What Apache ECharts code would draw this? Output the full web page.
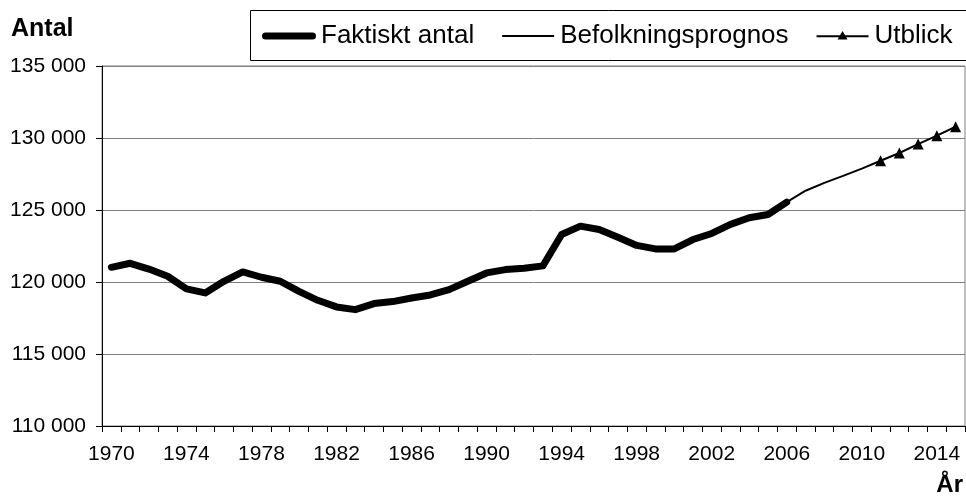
<!DOCTYPE html>
<html>
<head>
<meta charset="utf-8">
<script src="https://cdn.jsdelivr.net/npm/echarts@6/dist/echarts.min.js"></script>
<style>
html,body{margin:0;padding:0;background:#fff;}
#chart{width:966px;height:498px;}
</style>
</head>
<body>
<div id="chart"></div>
<script>
var years = [];
for (var y = 1970; y <= 2015; y++) years.push(String(y));

var faktiskt = [121020, 121300, 120900, 120400, 119520, 119240, 120050, 120700, 120330, 120050,
  119350, 118730, 118270, 118080, 118500, 118640, 118890, 119100, 119470, 120050,
  120630, 120860, 120950, 121120, 123300, 123880, 123650, 123110, 122540, 122300,
  122300, 122950, 123370, 124000, 124460, 124690, 125550,
  null, null, null, null, null, null, null, null, null];

var prognos = [null, null, null, null, null, null, null, null, null, null,
  null, null, null, null, null, null, null, null, null, null,
  null, null, null, null, null, null, null, null, null, null,
  null, null, null, null, null, null, 125550,
  126340, 126880, 127370, 127875, 128420, null, null, null, null];

var utblick = [null, null, null, null, null, null, null, null, null, null,
  null, null, null, null, null, null, null, null, null, null,
  null, null, null, null, null, null, null, null, null, null,
  null, null, null, null, null, null, null,
  null, null, null, null, 128420, 128960, 129580, 130160, 130780];

var seriesNames = ['Faktiskt antal', 'Befolkningsprognos', 'Utblick'];
var yTitle = 'Antal';
var xTitle = 'År';

var FONT = '"Liberation Sans", Arial, sans-serif';

// legend icons (box 54 x 12 defined by tiny corner specks)
var BOX = 'M0,0h0.01v0.01h-0.01z M54,12h-0.01v-0.01h0.01z ';
var iconThick = 'path://' + BOX + 'M3.5,2.5 h47 a3.5,3.5 0 0 1 0,7 h-47 a3.5,3.5 0 0 1 0,-7 z';
var iconThin = 'path://' + BOX + 'M1,5 h52 v2 h-52 z';
var iconTri = 'path://' + BOX + 'M1,5.2 h52 v2 h-52 z M22,9.5 L27,1 L32,9.5 z';

var chart = echarts.init(document.getElementById('chart'), null, {renderer: 'canvas'});
chart.setOption({
  animation: false,
  backgroundColor: '#fff',
  grid: {left: 102, right: 1, top: 66, bottom: 72, show: true, borderColor: '#808080', borderWidth: 1, containLabel: false},
  graphic: [
    {type: 'rect', z: 0, shape: {x: 250.5, y: 10.5, width: 740, height: 50}, style: {fill: '#fff', stroke: '#000', lineWidth: 1}},
    {type: 'text', left: 11, top: 17, style: {text: yTitle, font: 'bold 25px ' + FONT, fill: '#000'}},
    {type: 'text', right: 3, top: 473, style: {text: xTitle, font: 'bold 24px ' + FONT, fill: '#000'}}
  ],
  legend: {
    z: 10,
    left: 262, top: 23,
    itemGap: 27,
    itemWidth: 54, itemHeight: 12,
    padding: 0,
    symbolKeepAspect: false,
    itemStyle: {color: '#000', borderWidth: 0},
    textStyle: {fontFamily: FONT, fontSize: 26, color: '#000', padding: [0, 0, 0, 0]},
    data: [
      {name: seriesNames[0], icon: iconThick},
      {name: seriesNames[1], icon: iconThin},
      {name: seriesNames[2], icon: iconTri}
    ]
  },
  xAxis: {
    type: 'category',
    data: years,
    boundaryGap: true,
    axisLine: {lineStyle: {color: '#000', width: 1}},
    axisTick: {show: true, interval: 0, length: 6, lineStyle: {color: '#000'}},
    axisLabel: {interval: 3, margin: 18, fontFamily: FONT, fontSize: 21, color: '#000'},
    splitLine: {show: false}
  },
  yAxis: {
    type: 'value',
    min: 110000, max: 135000, interval: 5000,
    axisLine: {show: true, lineStyle: {color: '#000', width: 1}},
    axisTick: {show: true, length: 6, lineStyle: {color: '#000'}},
    axisLabel: {margin: 16, fontFamily: FONT, fontSize: 21, color: '#000',
      formatter: function (v) { return String(v).replace(/\B(?=(\d{3})+(?!\d))/g, ' '); }},
    splitLine: {show: true, lineStyle: {color: '#808080', width: 1}}
  },
  series: [
    {name: seriesNames[0], type: 'line', data: faktiskt, symbol: 'none', showSymbol: false,
      lineStyle: {width: 7, color: '#000', join: 'round', cap: 'round'}, itemStyle: {color: '#000'}, z: 3},
    {name: seriesNames[1], type: 'line', data: prognos, symbol: 'none', showSymbol: false,
      lineStyle: {width: 2, color: '#000'}, itemStyle: {color: '#000'}, z: 2},
    {name: seriesNames[2], type: 'line', data: utblick, symbol: 'triangle', symbolSize: 11, showSymbol: true,
      lineStyle: {width: 2, color: '#000'}, itemStyle: {color: '#000'}, z: 4}
  ]
});
</script>
</body>
</html>
